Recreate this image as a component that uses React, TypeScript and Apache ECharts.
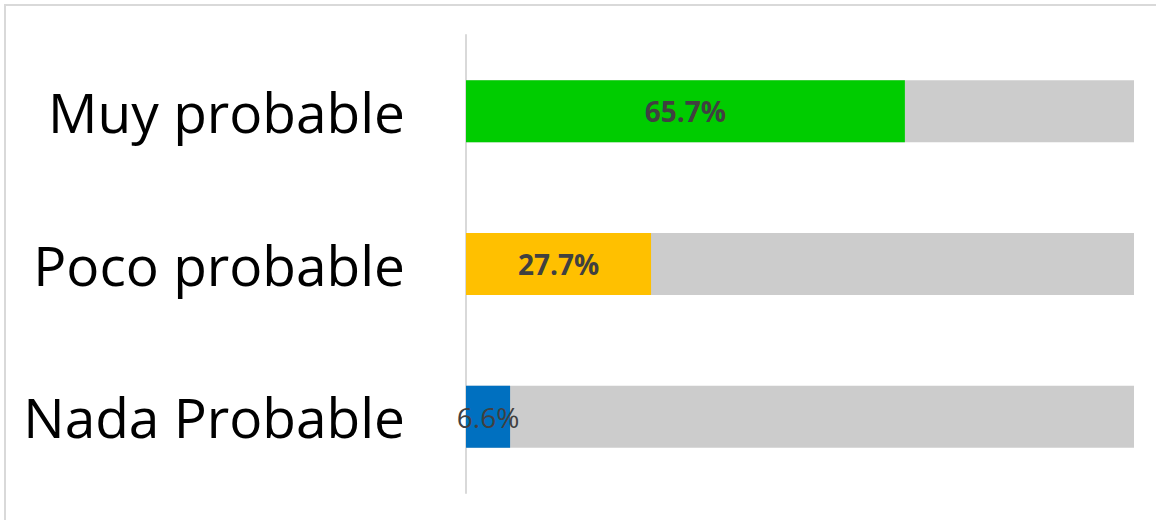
import React, { useEffect, useRef } from "react";
import * as echarts from "echarts";

const categories = ["Nada Probable", "Poco probable", "Muy probable"];
const values = [6.6, 27.7, 65.7];
const totals = [100, 100, 100];
const barColors = ["#0070C0", "#FFC000", "#00CC00"];
const labelBold = [false, true, true];

export default function App() {
  const ref = useRef<HTMLDivElement>(null);
  useEffect(() => {
    document.body.style.margin = "0";
    const chart = echarts.init(ref.current!, undefined, { renderer: "svg" });
    const font = "'Open Sans', 'Noto Sans', sans-serif";
    chart.setOption({
      animation: false,
      backgroundColor: "#ffffff",
      grid: { left: 466, right: 22, top: 35, bottom: 27, containLabel: false },
      xAxis: { type: "value", min: 0, max: 100, show: false },
      yAxis: {
        type: "category",
        data: categories,
        axisLine: { show: true, lineStyle: { color: "#d9d9d9", width: 2 } },
        axisTick: { show: false },
        axisLabel: {
          color: "#000000",
          fontSize: 55,
          fontFamily: font,
          margin: 61,
          padding: [0, 0, 8, 0],
        },
      },
      graphic: [
        { type: "line", shape: { x1: 4, y1: 5, x2: 1156, y2: 5 }, style: { stroke: "#d9d9d9", lineWidth: 2 } },
        { type: "line", shape: { x1: 5, y1: 5, x2: 5, y2: 520 }, style: { stroke: "#d9d9d9", lineWidth: 2 } },
      ],
      series: [
        {
          type: "bar",
          data: totals,
          barWidth: 62,
          barGap: "-100%",
          itemStyle: { color: "#CCCCCC" },
          silent: true,
          z: 1,
        },
        {
          type: "bar",
          barWidth: 62,
          barGap: "-100%",
          z: 2,
          data: values.map((v, i) => ({
            value: v,
            itemStyle: { color: barColors[i] },
            label: { fontWeight: labelBold[i] ? "bold" : "normal" },
          })),
          label: {
            show: true,
            position: "inside",
            color: "#404040",
            fontSize: 28,
            fontFamily: font,
            formatter: (p: any) => p.value.toFixed(1) + "%",
          },
        },
      ],
    });
    return () => chart.dispose();
  }, []);
  return <div ref={ref} style={{ width: 1156, height: 520 }} />;
}
